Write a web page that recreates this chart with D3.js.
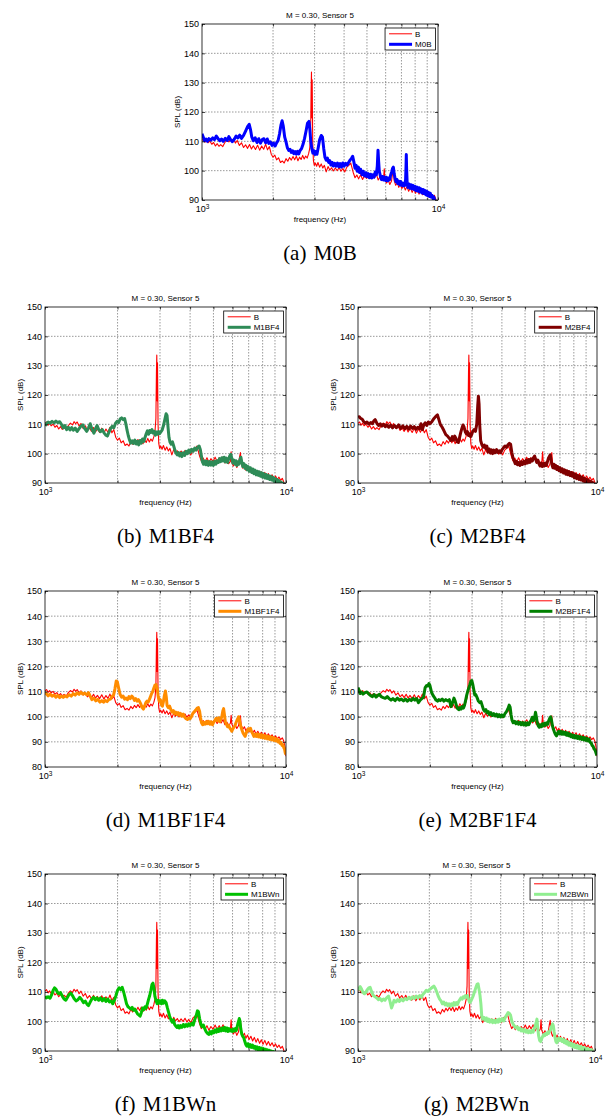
<!DOCTYPE html>
<html><head><meta charset="utf-8">
<script src="https://cdn.jsdelivr.net/npm/d3@7"></script>
<style>body{margin:0;background:#fff} svg{display:block}</style>
</head><body><svg id="c" width="611" height="1119"></svg>
<script>
// ---------- DATA ----------
const titleText = "M = 0.30, Sensor 5";
const xLabelText = "frequency  (Hz)";
const yLabelText = "SPL  (dB)";
const baseName = "B";
const seriesNames = ["M0B","M1BF4","M2BF4","M1BF1F4","M2BF1F4","M1BWn","M2BWn"];
const captionTags = ["(a)","(b)","(c)","(d)","(e)","(f)","(g)"];
const yTicks90 = [90,100,110,120,130,140,150];
const yTicks80 = [80,90,100,110,120,130,140,150];
const xTicks = [1000,2000,3000,4000,5000,6000,7000,8000,9000,10000];
const xTickExp = {1000:"3",10000:"4"};

const dataB = [[1000,110.3],[1015,110.8],[1030,109.7],[1045,110.4],[1060,109.5],[1080,110.1],[1100,109.0],[1120,109.6],[1140,108.4],[1160,109.2],[1180,108.3],[1200,108.9],[1225,108.2],[1250,109.6],[1275,110.4],[1300,109.8],[1320,110.9],[1340,110.2],[1360,110.8],[1385,109.4],[1410,110.3],[1440,108.6],[1470,109.5],[1500,107.9],[1530,108.8],[1560,107.6],[1590,108.9],[1620,107.4],[1650,108.5],[1685,107.2],[1720,108.7],[1755,107.0],[1790,108.4],[1825,107.3],[1860,109.0],[1895,107.1],[1930,108.2],[1965,105.6],[2000,104.6],[2035,105.3],[2070,103.7],[2110,104.4],[2150,102.8],[2190,103.3],[2230,102.6],[2270,104.1],[2310,103.2],[2350,104.5],[2390,103.6],[2430,104.8],[2470,103.7],[2510,104.9],[2550,103.4],[2590,104.6],[2630,103.8],[2670,105.2],[2710,104.0],[2750,105.0],[2790,104.3],[2830,105.8],[2860,107.5],[2885,112.0],[2900,128.0],[2910,133.6],[2920,118.0],[2930,131.0],[2945,110.0],[2965,103.5],[2990,101.8],[3020,102.6],[3060,101.5],[3100,102.8],[3150,101.2],[3200,102.3],[3250,100.9],[3300,101.8],[3360,99.6],[3420,101.4],[3480,100.2],[3540,101.0],[3600,99.9],[3670,100.9],[3740,100.0],[3810,101.1],[3880,99.8],[3950,100.7],[4030,99.6],[4110,101.2],[4190,101.8],[4270,102.6],[4320,101.0],[4380,99.2],[4450,97.6],[4530,98.5],[4610,97.2],[4700,98.6],[4790,97.0],[4880,98.3],[4980,97.4],[5080,98.8],[5180,97.3],[5280,98.6],[5380,97.5],[5480,98.9],[5580,96.8],[5680,97.9],[5780,96.6],[5880,97.4],[5920,100.6],[5960,97.0],[6050,95.8],[6150,96.9],[6250,95.3],[6350,96.4],[6420,99.0],[6470,100.4],[6520,96.6],[6620,95.0],[6720,96.0],[6820,94.3],[6920,95.4],[7030,93.9],[7150,95.0],[7270,93.4],[7390,94.6],[7510,93.0],[7640,94.2],[7770,92.6],[7900,93.8],[8030,92.3],[8170,93.6],[8310,92.0],[8450,93.2],[8600,91.8],[8750,92.8],[8900,91.5],[9050,92.4],[9200,91.2],[9350,92.0],[9500,90.9],[9650,91.6],[9780,90.4],[9880,88.5],[9950,86.5],[10000,84.3]];

const dataM0B = [[1000,112.6],[1012,111.5],[1025,110.2],[1040,110.8],[1055,110.0],[1070,110.9],[1090,110.4],[1110,111.2],[1130,110.6],[1150,111.8],[1170,110.9],[1190,110.2],[1210,110.8],[1230,110.0],[1255,111.0],[1280,110.3],[1300,111.6],[1320,110.6],[1345,109.9],[1370,110.7],[1395,111.8],[1420,111.2],[1445,112.1],[1470,111.0],[1500,112.0],[1530,113.5],[1560,115.0],[1585,115.8],[1605,114.0],[1625,111.5],[1650,110.2],[1680,111.2],[1710,109.6],[1740,110.9],[1770,109.4],[1800,110.6],[1830,110.9],[1860,109.5],[1890,110.8],[1920,109.3],[1950,109.8],[1980,108.6],[2010,109.4],[2040,108.4],[2070,109.5],[2100,110.2],[2130,112.5],[2160,115.5],[2185,117.0],[2210,115.2],[2240,111.5],[2270,109.8],[2300,107.8],[2330,106.9],[2360,107.3],[2390,106.2],[2420,106.8],[2450,105.8],[2480,106.5],[2510,105.6],[2540,106.6],[2570,105.7],[2600,106.8],[2640,107.5],[2680,109.0],[2720,111.0],[2760,113.5],[2800,116.2],[2840,116.8],[2865,114.0],[2890,110.0],[2920,107.5],[2950,106.0],[2980,106.8],[3010,105.5],[3040,106.5],[3070,105.6],[3110,108.0],[3150,110.5],[3200,112.0],[3240,111.4],[3280,107.5],[3320,104.5],[3360,103.6],[3400,104.3],[3440,102.8],[3480,103.4],[3520,101.9],[3560,102.8],[3600,101.6],[3650,102.5],[3700,101.5],[3750,102.6],[3800,101.3],[3850,102.4],[3900,101.2],[3950,102.6],[4000,101.5],[4060,102.5],[4120,101.9],[4180,102.8],[4240,103.6],[4300,104.2],[4350,104.9],[4400,103.0],[4450,100.8],[4500,101.8],[4550,99.8],[4600,101.2],[4650,99.4],[4700,100.5],[4760,98.6],[4820,99.8],[4880,98.2],[4940,99.3],[5000,97.9],[5060,99.0],[5120,97.6],[5180,98.8],[5240,97.5],[5300,98.6],[5360,97.8],[5420,99.5],[5480,98.6],[5530,101.5],[5570,107.0],[5600,103.5],[5640,99.8],[5700,98.2],[5760,97.0],[5820,98.0],[5880,96.8],[5940,97.8],[6000,96.6],[6060,97.7],[6120,96.5],[6180,97.5],[6240,96.9],[6300,98.5],[6360,99.6],[6420,100.8],[6470,101.2],[6520,99.0],[6580,97.3],[6640,96.2],[6700,97.0],[6760,95.6],[6820,96.4],[6880,95.2],[6940,96.3],[7000,95.0],[7060,95.8],[7120,94.8],[7180,95.8],[7240,95.0],[7290,97.0],[7320,101.5],[7340,105.5],[7360,101.0],[7400,96.0],[7460,94.3],[7530,95.5],[7600,94.0],[7680,95.2],[7760,93.8],[7840,95.0],[7920,93.6],[8000,94.6],[8080,93.2],[8160,94.4],[8240,93.0],[8320,94.2],[8400,92.7],[8480,93.8],[8560,92.4],[8640,93.6],[8720,92.2],[8800,93.3],[8880,91.8],[8960,93.0],[9040,91.5],[9120,92.6],[9200,91.2],[9280,92.3],[9360,91.0],[9440,91.6],[9520,90.5],[9600,91.0],[9680,90.0],[9760,89.5]];

const dataM1BF4 = [[1000,109.5],[1015,110.3],[1030,110.8],[1050,110.4],[1070,111.0],[1090,110.5],[1110,111.1],[1130,110.6],[1150,110.9],[1170,110.0],[1190,108.8],[1210,109.6],[1230,108.2],[1250,109.0],[1270,108.1],[1290,108.9],[1310,108.0],[1335,108.7],[1360,107.6],[1385,108.5],[1410,109.4],[1435,109.8],[1460,108.6],[1490,107.6],[1515,108.8],[1540,110.2],[1565,108.4],[1595,107.0],[1620,108.5],[1645,109.6],[1670,108.2],[1700,107.5],[1730,108.2],[1760,107.0],[1790,106.3],[1815,106.0],[1840,107.2],[1870,108.5],[1900,109.3],[1930,108.8],[1960,110.3],[1990,111.0],[2020,110.6],[2050,111.8],[2080,112.2],[2110,111.6],[2140,112.0],[2165,110.2],[2190,108.0],[2215,106.2],[2240,104.8],[2270,103.6],[2300,104.4],[2330,103.5],[2360,104.6],[2390,103.3],[2420,104.2],[2450,103.0],[2480,104.5],[2510,103.6],[2540,105.0],[2570,104.2],[2600,105.5],[2630,106.8],[2660,107.8],[2690,106.6],[2720,107.9],[2750,107.2],[2780,108.2],[2810,107.0],[2840,107.6],[2870,106.3],[2900,107.4],[2930,106.6],[2960,107.5],[2990,106.8],[3020,107.3],[3060,108.0],[3100,109.5],[3140,111.5],[3180,113.6],[3210,113.0],[3240,109.0],[3270,105.5],[3300,104.0],[3340,103.2],[3380,104.0],[3420,102.6],[3460,101.2],[3500,100.2],[3540,99.6],[3580,100.4],[3620,99.2],[3660,100.2],[3700,99.0],[3750,100.3],[3800,99.4],[3850,100.8],[3900,100.0],[3950,101.2],[4000,100.4],[4060,101.5],[4120,100.8],[4180,101.9],[4240,101.2],[4300,102.2],[4360,102.6],[4410,101.4],[4460,99.0],[4500,97.2],[4550,96.4],[4600,97.5],[4650,96.2],[4700,97.4],[4760,96.0],[4820,97.3],[4880,96.1],[4940,97.2],[5000,96.0],[5060,97.4],[5120,96.4],[5180,97.6],[5240,97.0],[5300,98.3],[5360,97.3],[5420,98.6],[5480,97.5],[5540,98.8],[5600,97.2],[5660,98.5],[5720,97.0],[5780,98.2],[5840,99.2],[5900,99.8],[5960,98.4],[6020,96.8],[6080,97.8],[6140,96.4],[6200,97.6],[6260,96.0],[6320,97.2],[6380,96.4],[6440,98.0],[6500,98.8],[6560,97.0],[6620,95.6],[6690,96.6],[6760,95.0],[6830,96.0],[6900,94.5],[6970,95.6],[7040,94.0],[7120,95.2],[7200,93.6],[7280,94.8],[7360,93.2],[7440,94.4],[7520,92.8],[7600,94.0],[7680,92.6],[7760,93.8],[7840,92.3],[7920,93.5],[8000,92.0],[8090,93.2],[8180,91.7],[8270,92.9],[8360,91.5],[8450,92.6],[8540,91.2],[8630,92.3],[8720,91.0],[8810,92.0],[8900,90.6],[8990,91.6],[9080,90.3],[9170,91.2],[9260,90.0],[9350,90.8],[9440,89.6],[9530,90.3],[9620,89.5],[9710,90.0],[9800,89.4],[9900,89.0]];

const dataM2BF4 = [[1000,112.4],[1012,112.6],[1025,112.0],[1040,111.8],[1055,111.0],[1070,110.4],[1090,110.8],[1110,110.1],[1130,110.6],[1150,110.2],[1165,111.2],[1180,111.6],[1200,110.3],[1220,109.6],[1240,110.2],[1260,109.4],[1280,110.0],[1300,109.2],[1320,109.8],[1345,109.0],[1370,109.7],[1395,108.8],[1420,109.6],[1450,108.9],[1480,109.8],[1510,108.6],[1540,109.5],[1570,108.5],[1600,109.3],[1630,108.4],[1660,109.4],[1690,108.6],[1720,109.2],[1750,108.3],[1780,109.0],[1810,108.5],[1835,110.2],[1860,108.2],[1885,109.8],[1910,110.5],[1940,109.6],[1970,110.8],[2000,110.2],[2040,111.0],[2080,112.0],[2120,112.8],[2150,113.2],[2180,111.6],[2210,110.0],[2250,109.0],[2290,107.8],[2330,106.5],[2370,106.0],[2410,105.2],[2450,104.5],[2480,105.8],[2510,104.6],[2540,106.0],[2570,105.2],[2600,104.0],[2630,103.8],[2660,105.5],[2690,107.2],[2720,108.6],[2750,109.8],[2780,109.0],[2810,107.5],[2840,106.8],[2870,107.5],[2900,106.2],[2930,106.8],[2960,105.8],[2990,106.5],[3020,107.6],[3060,108.2],[3100,107.6],[3140,110.0],[3170,116.5],[3190,119.6],[3210,117.0],[3230,110.0],[3260,104.5],[3300,103.0],[3340,102.2],[3380,102.9],[3420,101.8],[3460,102.6],[3500,100.6],[3540,101.6],[3580,100.2],[3620,101.3],[3660,100.0],[3700,101.2],[3750,100.3],[3800,101.4],[3850,100.4],[3900,101.0],[3950,100.3],[4000,101.3],[4060,102.0],[4120,102.6],[4180,102.2],[4240,103.0],[4300,103.5],[4350,103.2],[4400,100.5],[4450,98.6],[4500,97.6],[4550,96.6],[4600,97.4],[4650,96.2],[4700,97.0],[4760,96.0],[4820,97.2],[4880,96.3],[4940,97.4],[5000,96.5],[5060,97.8],[5120,96.8],[5180,98.0],[5240,97.0],[5300,98.2],[5360,97.5],[5420,98.6],[5480,99.2],[5540,98.0],[5600,97.0],[5660,97.8],[5720,96.5],[5780,95.8],[5840,96.8],[5900,95.6],[5960,96.6],[6020,95.8],[6080,96.8],[6140,96.0],[6200,97.2],[6260,98.4],[6320,99.0],[6370,99.6],[6420,98.0],[6480,96.2],[6540,95.2],[6600,96.4],[6660,95.0],[6720,96.0],[6790,94.6],[6860,95.6],[6930,94.2],[7000,95.2],[7080,93.8],[7160,94.8],[7240,93.4],[7320,94.5],[7400,93.0],[7480,94.2],[7560,92.8],[7640,93.9],[7720,92.5],[7800,93.6],[7880,92.3],[7960,93.4],[8040,91.8],[8130,92.9],[8220,91.5],[8310,92.6],[8400,91.2],[8490,92.3],[8580,91.0],[8670,92.0],[8760,90.6],[8850,91.6],[8940,90.4],[9030,91.3],[9120,90.2],[9210,91.0],[9300,89.8],[9400,90.6],[9500,89.6],[9600,90.2],[9700,89.5]];

const dataM1BF1F4 = [[1000,109.8],[1015,109.0],[1030,108.3],[1050,109.0],[1070,108.2],[1090,108.6],[1110,107.8],[1130,108.5],[1150,107.6],[1170,108.2],[1190,107.7],[1210,108.3],[1235,107.9],[1260,108.8],[1285,108.2],[1310,109.2],[1335,108.6],[1360,109.5],[1385,108.9],[1410,109.7],[1435,109.0],[1460,109.4],[1490,108.7],[1515,109.6],[1540,108.2],[1565,106.8],[1595,107.4],[1625,106.3],[1655,106.9],[1690,105.8],[1720,106.4],[1750,105.8],[1780,106.5],[1810,106.0],[1840,106.8],[1870,107.0],[1900,108.2],[1925,108.6],[1950,111.0],[1975,114.2],[1995,114.0],[2020,111.5],[2050,108.8],[2080,107.8],[2110,108.2],[2140,107.0],[2170,107.4],[2200,106.8],[2230,108.0],[2260,107.2],[2290,108.2],[2320,107.6],[2350,106.5],[2380,107.2],[2410,106.2],[2440,106.8],[2470,106.0],[2500,105.0],[2530,103.6],[2560,103.0],[2590,104.2],[2620,105.6],[2650,106.2],[2680,105.8],[2710,106.8],[2740,108.0],[2770,109.2],[2800,110.0],[2830,111.4],[2860,112.6],[2890,112.8],[2920,111.2],[2950,108.0],[2980,106.2],[3010,106.8],[3040,104.8],[3070,104.2],[3100,106.0],[3130,108.5],[3160,110.2],[3185,108.0],[3210,104.5],[3250,103.6],[3290,104.2],[3330,102.8],[3370,101.8],[3410,102.4],[3450,101.2],[3490,101.8],[3530,100.9],[3570,101.6],[3610,100.6],[3650,101.3],[3700,100.2],[3750,101.0],[3800,99.8],[3850,99.2],[3900,98.9],[3950,99.6],[4000,99.2],[4050,100.0],[4100,101.2],[4160,102.0],[4220,102.6],[4280,103.4],[4330,103.6],[4380,102.2],[4420,99.6],[4460,97.6],[4510,96.8],[4560,97.8],[4610,97.0],[4660,98.0],[4710,97.2],[4770,98.2],[4830,97.0],[4890,98.0],[4950,96.8],[5010,97.8],[5070,98.6],[5130,99.4],[5190,98.4],[5250,99.6],[5310,98.0],[5370,99.0],[5420,100.2],[5470,102.4],[5510,103.2],[5550,101.0],[5600,98.0],[5660,97.0],[5720,96.0],[5780,96.6],[5840,95.6],[5900,95.0],[5960,94.2],[6020,95.2],[6080,95.8],[6140,96.4],[6200,97.6],[6260,98.6],[6320,99.4],[6360,100.0],[6400,99.0],[6450,97.2],[6510,95.8],[6570,94.6],[6640,93.4],[6700,92.8],[6770,92.2],[6840,93.6],[6910,94.4],[6980,95.2],[7050,94.6],[7120,95.4],[7200,94.0],[7280,93.2],[7360,92.2],[7440,93.0],[7520,92.2],[7600,93.2],[7680,92.0],[7760,93.0],[7840,91.8],[7920,92.8],[8000,91.6],[8090,92.6],[8180,91.4],[8270,92.4],[8360,91.2],[8450,92.2],[8540,91.0],[8630,92.0],[8720,90.8],[8810,91.8],[8900,90.6],[8990,91.4],[9080,90.4],[9170,91.2],[9260,90.0],[9350,90.6],[9440,89.4],[9530,89.8],[9620,88.6],[9710,88.8],[9800,87.6],[9870,87.0],[9930,85.6],[9980,85.0]];

const dataM2BF1F4 = [[1000,111.6],[1010,110.6],[1020,109.2],[1035,109.8],[1050,109.0],[1070,109.6],[1090,109.8],[1110,109.0],[1130,108.4],[1150,108.0],[1170,108.8],[1190,107.8],[1210,108.5],[1230,108.9],[1250,108.0],[1275,107.6],[1300,107.3],[1325,108.0],[1350,107.2],[1375,106.6],[1400,107.2],[1430,106.4],[1460,107.4],[1490,106.6],[1520,107.0],[1550,106.3],[1580,107.0],[1610,106.2],[1640,106.9],[1670,106.4],[1700,107.3],[1730,106.6],[1760,107.2],[1790,105.6],[1820,106.6],[1850,107.2],[1880,107.8],[1910,111.6],[1935,112.4],[1960,112.2],[1980,113.2],[2000,112.4],[2030,109.8],[2060,108.5],[2090,107.6],[2120,106.6],[2150,106.2],[2180,106.8],[2210,106.4],[2250,107.0],[2290,106.2],[2330,106.8],[2370,106.3],[2410,106.8],[2450,104.0],[2490,105.8],[2520,107.4],[2550,106.2],[2580,104.5],[2610,103.2],[2640,102.8],[2670,103.6],[2700,103.0],[2730,104.0],[2760,103.4],[2790,104.5],[2820,106.5],[2850,108.6],[2880,110.2],[2910,111.5],[2940,112.8],[2970,114.2],[2995,114.4],[3020,113.0],[3050,110.8],[3080,108.6],[3110,108.8],[3150,107.6],[3190,106.2],[3230,105.6],[3270,106.0],[3310,104.4],[3350,102.8],[3390,102.2],[3430,102.8],[3470,101.5],[3510,102.0],[3550,100.8],[3600,101.6],[3650,100.5],[3700,101.2],[3750,100.3],[3800,101.0],[3850,100.0],[3900,100.8],[3950,99.9],[4000,100.7],[4060,100.0],[4120,101.2],[4180,102.0],[4240,103.2],[4290,104.6],[4330,103.8],[4370,100.8],[4410,98.6],[4460,97.6],[4520,98.2],[4580,97.2],[4640,98.0],[4700,97.0],[4760,97.8],[4820,96.8],[4880,97.7],[4940,96.7],[5000,97.6],[5060,96.6],[5120,97.6],[5180,96.8],[5240,97.8],[5300,98.6],[5360,99.8],[5420,98.4],[5480,99.6],[5530,101.8],[5570,100.2],[5620,97.8],[5680,96.4],[5740,95.8],[5800,96.8],[5860,96.0],[5920,97.2],[5980,96.4],[6040,97.4],[6100,96.6],[6160,97.6],[6220,97.0],[6280,98.4],[6340,99.4],[6400,100.0],[6450,98.6],[6510,96.4],[6570,95.0],[6630,94.0],[6700,93.0],[6770,92.4],[6840,93.4],[6910,94.2],[6980,93.2],[7050,94.2],[7130,93.0],[7210,94.0],[7290,93.0],[7370,93.8],[7450,92.6],[7530,93.6],[7610,92.4],[7690,93.2],[7770,92.0],[7850,92.8],[7930,91.8],[8010,92.6],[8100,91.6],[8190,92.4],[8280,91.4],[8370,92.2],[8460,91.2],[8550,92.0],[8640,91.0],[8730,91.8],[8820,90.8],[8910,91.6],[9000,90.6],[9090,91.4],[9180,90.4],[9270,91.0],[9360,89.8],[9450,89.6],[9540,88.6],[9630,88.2],[9720,87.2],[9810,86.8],[9900,85.6],[9980,84.6]];

const dataM1BWn = [[1000,108.6],[1015,108.0],[1030,108.4],[1050,107.9],[1065,109.0],[1080,110.5],[1095,111.4],[1110,111.0],[1125,110.0],[1140,109.4],[1160,109.8],[1180,108.6],[1200,107.6],[1220,107.2],[1240,108.2],[1260,109.2],[1280,109.6],[1300,108.8],[1320,107.8],[1345,107.0],[1370,107.4],[1395,108.2],[1420,107.4],[1445,106.4],[1470,106.9],[1495,105.8],[1515,105.4],[1540,106.6],[1565,107.6],[1590,108.2],[1615,107.4],[1640,108.0],[1670,107.2],[1700,108.0],[1730,107.0],[1760,107.8],[1790,106.8],[1820,107.6],[1850,106.6],[1880,107.0],[1910,106.0],[1940,107.2],[1970,108.8],[2000,110.6],[2030,111.4],[2060,110.8],[2090,111.6],[2120,110.0],[2150,108.0],[2180,106.0],[2210,105.0],[2240,104.6],[2270,104.2],[2300,104.8],[2330,103.8],[2360,104.2],[2390,103.4],[2420,102.6],[2450,102.2],[2480,101.8],[2510,103.0],[2540,104.6],[2570,104.0],[2600,105.0],[2630,104.6],[2660,106.0],[2690,107.5],[2720,108.8],[2750,110.6],[2780,112.6],[2805,113.0],[2830,111.4],[2860,108.4],[2890,107.0],[2920,106.0],[2950,107.2],[2980,106.2],[3010,107.0],[3040,106.0],[3070,107.2],[3100,106.2],[3140,107.0],[3180,106.4],[3220,104.6],[3255,103.2],[3290,101.8],[3330,100.6],[3370,99.8],[3410,100.6],[3450,99.0],[3490,98.4],[3530,98.0],[3570,98.6],[3610,97.8],[3650,98.6],[3700,98.0],[3750,99.0],[3800,98.2],[3850,99.0],[3900,98.4],[3950,99.2],[4000,98.6],[4060,99.4],[4120,98.8],[4180,100.6],[4240,102.0],[4290,103.6],[4330,103.4],[4380,101.0],[4430,99.2],[4480,98.2],[4540,98.8],[4600,97.6],[4660,96.6],[4720,96.0],[4780,95.6],[4840,96.6],[4900,95.8],[4960,96.8],[5020,96.2],[5080,97.2],[5140,96.4],[5200,97.4],[5260,96.6],[5320,97.6],[5380,96.8],[5440,97.8],[5500,97.0],[5560,98.0],[5620,96.8],[5680,97.8],[5740,96.6],[5800,97.6],[5860,96.8],[5920,97.2],[5980,96.6],[6040,97.4],[6100,96.8],[6160,97.6],[6220,97.0],[6280,98.4],[6340,99.8],[6400,101.0],[6440,100.2],[6490,97.6],[6550,95.8],[6610,95.0],[6670,94.6],[6740,93.4],[6810,92.2],[6880,91.6],[6950,92.4],[7020,91.4],[7100,92.2],[7180,91.2],[7260,92.0],[7340,91.0],[7420,91.6],[7500,90.6],[7580,91.4],[7660,90.4],[7740,91.2],[7820,90.2],[7900,91.0],[7980,90.0],[8060,90.8],[8140,89.8],[8220,90.6],[8300,89.6],[8380,90.4],[8460,89.6],[8540,90.2],[8620,89.4],[8700,90.0],[8780,89.2],[8860,89.8],[8940,89.0],[9020,89.6],[9100,88.8],[9200,89.2],[9300,88.6],[9400,88.8]];

const dataM2BWn = [[1000,110.5],[1010,111.2],[1022,111.8],[1035,111.0],[1050,109.8],[1065,109.4],[1080,110.0],[1095,110.8],[1110,111.4],[1125,111.6],[1140,110.2],[1160,108.8],[1180,108.4],[1200,108.0],[1220,107.4],[1240,107.8],[1260,107.0],[1280,107.6],[1300,107.2],[1320,108.0],[1345,108.6],[1365,106.8],[1385,104.6],[1400,105.6],[1420,107.2],[1445,106.6],[1470,107.4],[1495,106.8],[1520,107.6],[1550,107.0],[1580,107.8],[1610,107.4],[1640,108.2],[1670,107.6],[1700,108.4],[1730,107.8],[1760,108.6],[1790,108.0],[1820,108.8],[1850,108.2],[1880,109.2],[1910,109.8],[1940,110.6],[1970,110.2],[2000,110.8],[2030,111.2],[2060,111.6],[2090,112.0],[2120,111.2],[2150,110.0],[2180,108.6],[2210,107.6],[2240,107.0],[2270,106.0],[2300,106.6],[2330,105.6],[2360,106.2],[2390,105.4],[2420,106.0],[2450,105.2],[2480,106.0],[2510,105.4],[2540,106.4],[2570,105.6],[2600,106.4],[2630,105.8],[2660,106.8],[2690,107.4],[2720,108.0],[2750,107.6],[2780,108.4],[2810,108.0],[2840,108.8],[2870,108.2],[2900,108.8],[2930,107.4],[2960,106.4],[2990,106.8],[3020,107.6],[3060,108.6],[3100,110.0],[3140,111.4],[3180,112.6],[3210,112.8],[3240,111.0],[3270,109.0],[3300,106.0],[3330,101.6],[3360,100.8],[3400,101.4],[3440,100.4],[3480,101.2],[3520,100.0],[3560,100.8],[3600,99.8],[3650,100.6],[3700,99.6],[3750,100.4],[3800,99.6],[3850,100.6],[3900,99.8],[3950,100.8],[4000,100.0],[4060,101.0],[4120,100.2],[4180,101.4],[4240,102.2],[4300,103.0],[4350,102.8],[4400,102.2],[4460,100.0],[4520,99.0],[4580,98.4],[4640,97.8],[4700,98.2],[4760,97.2],[4820,97.8],[4880,96.8],[4940,97.4],[5000,96.6],[5060,97.2],[5120,96.4],[5180,97.0],[5240,96.2],[5300,96.8],[5360,96.2],[5420,97.0],[5480,96.4],[5540,97.6],[5600,98.6],[5650,99.8],[5690,100.8],[5730,98.0],[5780,95.2],[5840,93.6],[5900,93.2],[5960,94.2],[6020,95.0],[6080,95.6],[6140,95.2],[6200,96.0],[6260,95.6],[6320,96.4],[6380,96.0],[6440,96.8],[6500,97.4],[6560,98.4],[6620,99.2],[6670,98.6],[6720,96.6],[6780,94.6],[6840,93.2],[6900,92.8],[6960,93.6],[7030,94.4],[7100,93.6],[7180,94.2],[7260,93.2],[7340,94.0],[7420,92.8],[7500,93.6],[7580,92.4],[7660,93.2],[7740,92.0],[7820,92.8],[7900,91.8],[7980,92.6],[8060,91.4],[8140,92.2],[8220,91.2],[8300,92.0],[8380,91.0],[8460,91.8],[8540,90.8],[8620,91.6],[8700,90.6],[8780,91.4],[8860,90.4],[8940,91.2],[9020,90.2],[9100,91.0],[9200,90.2],[9300,90.8],[9400,90.0],[9500,90.6],[9600,89.8],[9700,90.4],[9800,89.6],[9900,90.0]];

// ---------- STYLE / LAYOUT ----------
const seriesData = [dataM0B, dataM1BF4, dataM2BF4, dataM1BF1F4, dataM2BF1F4, dataM1BWn, dataM2BWn];
const seriesColors = ["#0000ff","#2e8b57","#800000","#ff8c00","#008000","#00c000","#90ee90"];
const layout = [
  {x0:202, x1:438, y0:24,  y1:200,  yMin:90},
  {x0:45,  x1:286, y0:307, y1:483,  yMin:90},
  {x0:358, x1:597, y0:307, y1:483,  yMin:90},
  {x0:45,  x1:286, y0:591, y1:767,  yMin:80},
  {x0:358, x1:597, y0:591, y1:767,  yMin:80},
  {x0:45,  x1:286, y0:874, y1:1051, yMin:90},
  {x0:358, x1:595, y0:874, y1:1051, yMin:90}
];
const SANS = "'Liberation Sans', Arial, Helvetica, sans-serif";
const SERIF = "'Liberation Serif', 'Times New Roman', serif";

const svg = d3.select("#c");
svg.append("rect").attr("width",611).attr("height",1119).attr("fill","#fff");

layout.forEach((L, i) => {
  const g = svg.append("g");
  const x = d3.scaleLog().domain([1000, 10000]).range([L.x0, L.x1]);
  const y = d3.scaleLinear().domain([L.yMin, 150]).range([L.y1, L.y0]);
  const yTicks = L.yMin === 80 ? yTicks80 : yTicks90;

  const cid = "clip" + i;
  svg.append("clipPath").attr("id", cid).append("rect")
    .attr("x", L.x0).attr("y", L.y0).attr("width", L.x1 - L.x0).attr("height", L.y1 - L.y0);

  // grid
  const grid = g.append("g").attr("stroke", "#555").attr("stroke-width", 0.6).attr("stroke-dasharray", "1.5,1.5");
  grid.selectAll("line.v").data(xTicks.filter(t => t > 1000 && t < 10000)).join("line").attr("class","v")
    .attr("x1", d => x(d)).attr("x2", d => x(d)).attr("y1", L.y0).attr("y2", L.y1);
  grid.selectAll("line.h").data(yTicks.filter(t => t > L.yMin && t < 150)).join("line").attr("class","h")
    .attr("y1", d => y(d)).attr("y2", d => y(d)).attr("x1", L.x0).attr("x2", L.x1);

  // curves
  const line = d3.line().x(d => x(d[0])).y(d => y(d[1]));
  const lg = g.append("g").attr("clip-path", `url(#${cid})`);
  lg.append("path").datum(dataB).attr("d", line).attr("fill", "none")
    .attr("stroke", "#ff0000").attr("stroke-width", 1.1).attr("stroke-linejoin", "round");
  lg.append("path").datum(seriesData[i]).attr("d", line).attr("fill", "none")
    .attr("stroke", seriesColors[i]).attr("stroke-width", 3).attr("stroke-linejoin", "round");

  // axes
  const styleAxis = sel => {
    sel.attr("font-family", SANS).attr("font-size", 9);
    sel.select(".domain").remove();
    sel.selectAll(".tick line").attr("stroke", "#000").attr("stroke-width", 0.7);
    sel.selectAll(".tick text").attr("fill", "#000");
  };
  g.append("g").attr("transform", `translate(${L.x0},0)`)
    .call(d3.axisLeft(y).tickValues(yTicks).tickSize(-3).tickPadding(3).tickFormat(d3.format("d")))
    .call(styleAxis);
  g.append("g").attr("transform", `translate(${L.x1},0)`)
    .call(d3.axisRight(y).tickValues(yTicks).tickSize(-3).tickFormat(""))
    .call(styleAxis);
  const xb = g.append("g").attr("transform", `translate(0,${L.y1})`)
    .call(d3.axisBottom(x).tickValues(xTicks).tickSize(-2.5).tickPadding(6).tickFormat(""))
    .call(styleAxis);
  xb.selectAll(".tick text").each(function(d) {
    if (xTickExp[d]) {
      const t = d3.select(this);
      t.append("tspan").text("10");
      t.append("tspan").attr("dy", "-0.45em").attr("font-size", 6.5).text(xTickExp[d]);
    }
  });
  g.append("g").attr("transform", `translate(0,${L.y0})`)
    .call(d3.axisTop(x).tickValues(xTicks).tickSize(-2.5).tickFormat(""))
    .call(styleAxis);

  // box
  g.append("rect").attr("x", L.x0).attr("y", L.y0).attr("width", L.x1 - L.x0).attr("height", L.y1 - L.y0)
    .attr("fill", "none").attr("stroke", "#000").attr("stroke-width", 0.8);

  // labels
  const cx = (L.x0 + L.x1) / 2;
  g.append("text").attr("x", cx).attr("y", L.y0 - 6.5).attr("text-anchor", "middle")
    .attr("font-family", SANS).attr("font-size", 8).text(titleText);
  g.append("text").attr("x", cx).attr("y", L.y1 + 21.5).attr("text-anchor", "middle")
    .attr("font-family", SANS).attr("font-size", 8).text(xLabelText);
  g.append("text").attr("transform", `translate(${L.x0 - 22},${(L.y0 + L.y1) / 2}) rotate(-90)`)
    .attr("text-anchor", "middle").attr("font-family", SANS).attr("font-size", 8).text(yLabelText);

  // legend
  const leg = g.append("g");
  const names = [baseName, seriesNames[i]];
  const tmp = leg.append("text").attr("font-family", SANS).attr("font-size", 8).text(seriesNames[i]);
  const tw = tmp.node().getComputedTextLength();
  tmp.remove();
  const lw = 30 + tw + 4, lh = 22;
  const lx = L.x1 - 2.5 - lw, ly = L.y0 + 4;
  leg.append("rect").attr("x", lx).attr("y", ly).attr("width", lw).attr("height", lh)
    .attr("fill", "#fff").attr("stroke", "#000").attr("stroke-width", 0.8);
  const rows = [ly + 5.8, ly + 16.3];
  names.forEach((n, k) => {
    leg.append("line").attr("x1", lx + 4).attr("x2", lx + 27).attr("y1", rows[k]).attr("y2", rows[k])
      .attr("stroke", k === 0 ? "#ff0000" : seriesColors[i]).attr("stroke-width", k === 0 ? 1 : 3);
    leg.append("text").attr("x", lx + 30).attr("y", rows[k] + 2.9)
      .attr("font-family", SANS).attr("font-size", 8).text(n);
  });

  // caption
  const cap = svg.append("text").attr("x", cx).attr("y", L.y1 + 60).attr("text-anchor", "middle")
    .attr("font-family", SERIF).attr("font-size", 21);
  cap.append("tspan").text(captionTags[i]);
  cap.append("tspan").attr("dx", 2).text("\u00a0" + seriesNames[i]);
});
</script>
</body></html>
